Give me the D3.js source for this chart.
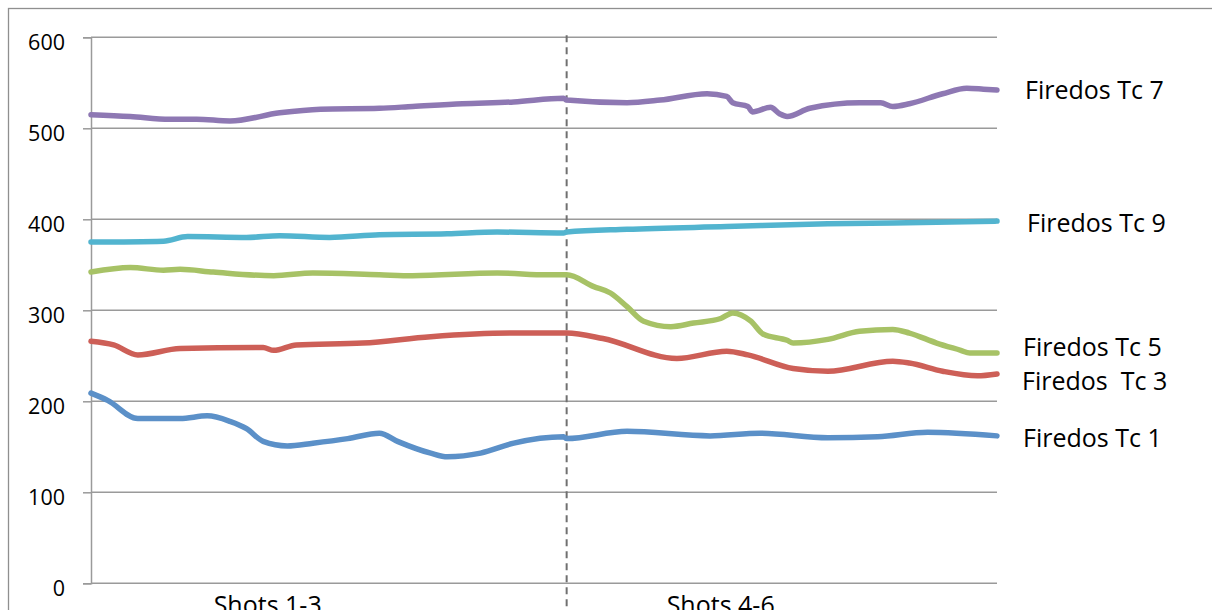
<!DOCTYPE html>
<html>
<head>
<meta charset="utf-8">
<script src="https://cdn.jsdelivr.net/npm/d3@7"></script>
<style>
  html, body { margin: 0; padding: 0; background: #fff; }
  svg { display: block; }
  text { font-family: "Open Sans", "Noto Sans", sans-serif; fill: #000; }
</style>
</head>
<body>
<svg id="chart" width="1212" height="610"></svg>
<script>
// ---- data (sample index 0..600, value) ----
const yTicks = [0, 100, 200, 300, 400, 500, 600];
const categories = ["Shots 1-3", "Shots 4-6"];
const categoryPos = [117, 417];   // sample index where each category label sits
const dividerAt = 315;            // sample index of the dashed divider

const tc7T = [0, 26, 52, 70, 92, 125, 152, 191, 213, 246, 280, 313, 315, 355, 377, 408, 421, 425, 435, 438, 450, 456, 461, 476, 509, 523, 531, 542, 564, 580, 591, 600];
const tc7V = [515, 513, 510, 510, 508, 517, 521, 522, 524, 527, 529, 533, 531, 528, 531, 538, 535, 528, 524, 518, 523, 516, 513, 522, 528, 528, 524, 527, 538, 544, 543, 542];

const tc9T = [0, 48, 64, 103, 125, 158, 191, 236, 269, 313, 315, 355, 421, 488, 531, 600];
const tc9V = [375, 376, 381, 380, 382, 380, 383, 384, 386, 385, 386, 389, 392, 395, 396, 398];

const tc5T = [0, 26, 48, 59, 81, 121, 147, 191, 213, 269, 302, 315, 333, 344, 355, 366, 384, 399, 417, 425, 437, 445, 461, 465, 488, 509, 531, 542, 560, 576, 582, 600];
const tc5V = [342, 347, 344, 345, 342, 338, 341, 339, 338, 341, 339, 339, 326, 319, 304, 288, 282, 286, 291, 297, 288, 274, 267, 264, 268, 277, 279, 275, 264, 256, 253, 253];

const tc3T = [0, 15, 31, 59, 114, 121, 136, 180, 225, 280, 313, 315, 339, 388, 421, 435, 465, 488, 531, 542, 564, 587, 600];
const tc3V = [266, 262, 251, 258, 259, 256, 262, 264, 271, 275, 275, 275, 269, 247, 255, 251, 236, 233, 244, 242, 233, 228, 230];

const tc1T = [0, 11, 31, 59, 77, 92, 103, 114, 130, 147, 170, 191, 203, 225, 236, 258, 280, 313, 315, 355, 410, 443, 488, 521, 554, 600];
const tc1V = [209, 201, 181, 181, 184, 178, 170, 156, 151, 154, 159, 165, 156, 143, 139, 143, 154, 161, 159, 167, 162, 165, 160, 161, 166, 162];

const seriesNames = ["Firedos Tc 7", "Firedos Tc 9", "Firedos Tc 5", "Firedos  Tc 3", "Firedos Tc 1"];
const seriesT = [tc7T, tc9T, tc5T, tc3T, tc1T];
const seriesV = [tc7V, tc9V, tc5V, tc3V, tc1V];
const seriesColors = ["#8e78b3", "#52b4cf", "#a7c266", "#cd5f57", "#5b90c8"];

// ---- layout ----
const svg = d3.select("#chart");
const plot = { left: 91, right: 997, top: 37.3, bottom: 583.3 };

const x = d3.scaleLinear().domain([0, 600]).range([plot.left, plot.right]);
const y = d3.scaleLinear().domain([0, 600]).range([plot.bottom, plot.top]);

// outer chart border (right/bottom run off the page)
svg.append("rect")
  .attr("x", 8.5).attr("y", 8.5)
  .attr("width", 1240).attr("height", 640)
  .attr("fill", "none").attr("stroke", "#8f8f8f").attr("stroke-width", 1.3);

// gridlines + y ticks
const yAxis = d3.axisLeft(y).tickValues(yTicks).tickSize(8).tickPadding(18).tickFormat(d3.format("d"));
const gy = svg.append("g").attr("transform", `translate(${plot.left},0)`).call(yAxis);
gy.select(".domain").attr("stroke", "#9a9a9a").attr("stroke-width", 1.5);
gy.selectAll(".tick line").attr("stroke", "#9a9a9a").attr("stroke-width", 1.5);
gy.selectAll(".tick text")
  .attr("font-size", 21.5).attr("font-family", "'Open Sans', sans-serif")
  .attr("dy", "0.55em").attr("fill", "#000");

svg.append("g").selectAll("line.grid").data(yTicks).join("line")
  .attr("class", "grid")
  .attr("x1", plot.left).attr("x2", plot.right)
  .attr("y1", d => y(d)).attr("y2", d => y(d))
  .attr("stroke", "#9a9a9a").attr("stroke-width", 1.5);

// dashed divider
svg.append("line")
  .attr("x1", x(dividerAt)).attr("x2", x(dividerAt))
  .attr("y1", plot.top - 2).attr("y2", 612)
  .attr("stroke", "#707070").attr("stroke-width", 2)
  .attr("stroke-dasharray", "7,5");

// category labels
svg.append("g").selectAll("text.cat").data(categories).join("text")
  .attr("class", "cat")
  .attr("x", (d, i) => x(categoryPos[i]))
  .attr("y", plot.bottom + 31)
  .attr("text-anchor", "middle")
  .attr("font-size", 25)
  .text(d => d);

// series lines
const line = d3.line().x(d => x(d[0])).y(d => y(d[1])).curve(d3.curveMonotoneX);
seriesNames.forEach((name, i) => {
  const pts = seriesT[i].map((t, j) => [t, seriesV[i][j]]);
  svg.append("path")
    .datum(pts)
    .attr("d", line)
    .attr("fill", "none")
    .attr("stroke", seriesColors[i])
    .attr("stroke-width", 5.5)
    .attr("stroke-linecap", "round")
    .attr("stroke-linejoin", "round");
});

// end labels (offset from each series' last point)
const labelOffsets = [ {dx: 28, dy: 0}, {dx: 30, dy: 2.5}, {dx: 26, dy: -6}, {dx: 25, dy: 7.5}, {dx: 26, dy: 2.5} ];
const labelBaseVals = seriesNames.map((n, i) => seriesV[i][seriesV[i].length - 1]);
svg.append("g").selectAll("text.lab").data(seriesNames).join("text")
  .attr("class", "lab")
  .attr("x", (d, i) => x(600) + labelOffsets[i].dx)
  .attr("y", (d, i) => y(labelBaseVals[i]) + labelOffsets[i].dy + 8.5)
  .attr("font-size", 25)
  .style("white-space", "pre")
  .attr("xml:space", "preserve")
  .text(d => d);
</script>
</body>
</html>
